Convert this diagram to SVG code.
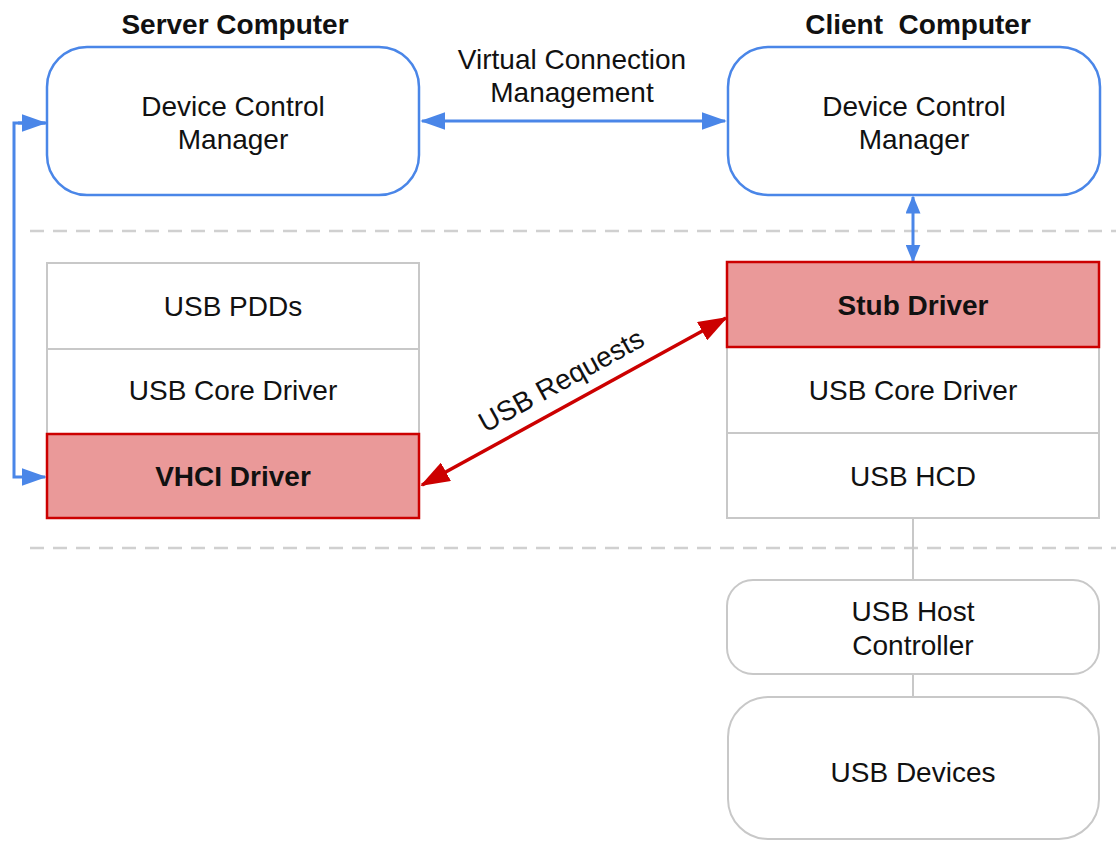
<svg xmlns="http://www.w3.org/2000/svg" width="1116" height="843" viewBox="0 0 1116 843">
<style>
text{font-family:"Liberation Sans",Arial,sans-serif;font-size:28px;fill:#111;text-anchor:middle}
.b{font-weight:bold}
.dcm{fill:#fff;stroke:#4a86e8;stroke-width:2.5}
.layer{fill:#fff;stroke:#c8c8c8;stroke-width:2}
.red{fill:#ea9999;stroke:#cc0000;stroke-width:2.5}
.dash{stroke:#d0d0d0;stroke-width:2.5;stroke-dasharray:14,9;fill:none}
.blue{stroke:#4a86e8;stroke-width:3;fill:none}
.gl{stroke:#c8c8c8;stroke-width:2;fill:none}
</style>
<defs>
<marker id="ab" viewBox="0 0 14 10" refX="13" refY="5" markerWidth="8.4" markerHeight="6" markerUnits="strokeWidth" orient="auto-start-reverse"><path d="M0,0 L14,5 L0,10 z" fill="#4a86e8"/></marker>
<marker id="abs" viewBox="0 0 12 10" refX="11" refY="5" markerWidth="6" markerHeight="5" markerUnits="strokeWidth" orient="auto-start-reverse"><path d="M0,0 L12,5 L0,10 z" fill="#4a86e8"/></marker>
<marker id="ar" viewBox="0 0 14 10" refX="13" refY="5" markerWidth="8.4" markerHeight="6" markerUnits="strokeWidth" orient="auto-start-reverse"><path d="M0,0 L14,5 L0,10 z" fill="#cc0000"/></marker>
</defs>
<rect width="1116" height="843" fill="#fff"/>
<g id="separators">
<line class="dash" x1="30" y1="231" x2="1116" y2="231"/>
<line class="dash" x1="30" y1="548" x2="1116" y2="548"/>
</g>
<text class="b" x="235" y="34">Server Computer</text>
<text class="b" x="918" y="34" xml:space="preserve">Client  Computer</text>
<g id="connectors">
<line class="blue" x1="422" y1="121" x2="725" y2="121" marker-start="url(#ab)" marker-end="url(#ab)"/>
<line class="blue" x1="913" y1="197" x2="913" y2="261" marker-start="url(#abs)" marker-end="url(#abs)"/>
<polyline class="blue" points="46,123 14,123 14,477 45,477" marker-end="url(#ab)"/>
<line class="blue" x1="18" y1="123" x2="45" y2="123" marker-end="url(#ab)"/>
<line stroke="#cc0000" stroke-width="3.5" x1="422" y1="485" x2="726" y2="318" marker-start="url(#ar)" marker-end="url(#ar)"/>
<line class="gl" x1="913" y1="518" x2="913" y2="580"/>
<line class="gl" x1="913" y1="674" x2="913" y2="697"/>
<text x="561" y="390" transform="rotate(-28.8 561 380)">USB Requests</text>
<text x="572" y="69">Virtual Connection</text>
<text x="572" y="102">Management</text>
</g>
<g id="server-dcm">
<rect class="dcm" x="47" y="47" width="372" height="148" rx="40"/>
<text x="233" y="116">Device Control</text>
<text x="233" y="149">Manager</text>
</g>
<g id="client-dcm">
<rect class="dcm" x="728" y="47" width="372" height="148" rx="40"/>
<text x="914" y="116">Device Control</text>
<text x="914" y="149">Manager</text>
</g>
<g id="usb-pdds">
<rect class="layer" x="47" y="263" width="372" height="86"/>
<text x="233" y="316">USB PDDs</text>
</g>
<g id="server-core">
<rect class="layer" x="47" y="349" width="372" height="85"/>
<text x="233" y="400">USB Core Driver</text>
</g>
<g id="vhci">
<rect class="red" x="47" y="434" width="372" height="84"/>
<text class="b" x="233" y="486">VHCI Driver</text>
</g>
<g id="client-core">
<rect class="layer" x="727" y="347" width="372" height="86"/>
<text x="913" y="400">USB Core Driver</text>
</g>
<g id="hcd">
<rect class="layer" x="727" y="433" width="372" height="85"/>
<text x="913" y="486">USB HCD</text>
</g>
<g id="stub">
<rect class="red" x="727" y="262" width="372" height="85"/>
<text class="b" x="913" y="315">Stub Driver</text>
</g>
<g id="host-controller">
<rect class="layer" x="727" y="580" width="372" height="94" rx="26"/>
<text x="913" y="621">USB Host</text>
<text x="913" y="655">Controller</text>
</g>
<g id="usb-devices">
<rect class="layer" x="728" y="697" width="371" height="142" rx="40" stroke-width="3"/>
<text x="913" y="782">USB Devices</text>
</g>
</svg>
